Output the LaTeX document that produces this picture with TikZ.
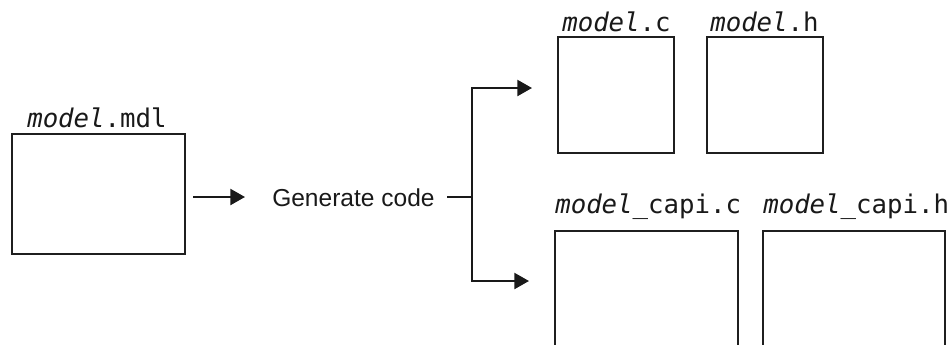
\documentclass[tikz,border=0pt]{standalone}
\usepackage{fontspec}
\setmainfont{Liberation Sans}
\setmonofont{DejaVu Sans Mono}
\usetikzlibrary{arrows.meta}
\begin{document}
\begin{tikzpicture}[x=0.75pt,y=-0.75pt,
  filebox/.style={draw=black!88,line width=2pt,rectangle,inner sep=0pt},
  fname/.style={anchor=base west,inner sep=0pt,font=\fontsize{19.3}{22}\ttfamily,text=black!90},
  conn/.style={line width=1.7pt,draw=black!90},
  arr/.style={conn,-{Triangle[length=11pt,width=12pt]}},
  lbl/.style={anchor=base west,inner sep=0pt,font=\fontsize{18.4}{22}\selectfont,text=black!90}]
\useasboundingbox (0,0) rectangle (950,344);
\clip (0,0) rectangle (950,344);
% boxes
\node[filebox,minimum width=129.75pt,minimum height=90pt] (mdl) at (98.5,194) {};
\node[filebox,minimum width=87pt,minimum height=87pt] (fc) at (616,95) {};
\node[filebox,minimum width=87pt,minimum height=87pt] (fh) at (765,95) {};
\node[filebox,minimum width=137.25pt,minimum height=112.5pt] (capic) at (646.5,306) {};
\node[filebox,minimum width=136.5pt,minimum height=112.5pt] (capih) at (854,306) {};
% file names
\node[fname] (lmdl) at (27,127) {\textit{model}.mdl};
\node[fname] (lc) at (562,31) {\textit{model}.c};
\node[fname] (lh) at (710,31) {\textit{model}.h};
\node[fname] (lcc) at (555,213) {\textit{model}\_capi.c};
\node[fname] (lch) at (763,213) {\textit{model}\_capi.h};
% generate code
\node[lbl] (gen) at (272,206) {Generate code};
% connectors
\coordinate (s1) at (193,197);
\coordinate (e1) at (245,197);
\coordinate (g1) at (447,197);
\coordinate (br) at (472,197);
\coordinate (t1) at (532,88);
\coordinate (b1) at (529,281);
\draw[arr] (s1) -- (e1);
\draw[conn] (g1) -- (br);
\draw[arr] (br) |- (t1);
\draw[arr] (br) |- (b1);
\end{tikzpicture}
\end{document}
